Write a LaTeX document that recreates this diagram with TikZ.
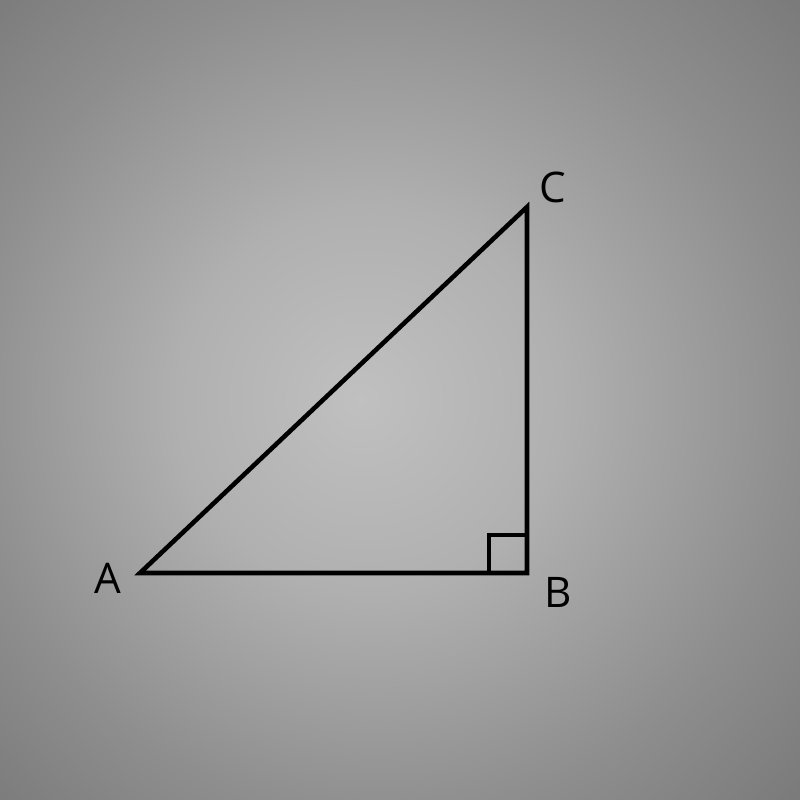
\documentclass[tikz,border=0pt]{standalone}
\usepackage{fontspec}
\setmainfont{Open Sans}
\definecolor{bgcore}{RGB}{192,192,192}
\definecolor{bgmid}{RGB}{176,176,176}
\definecolor{bgedge}{RGB}{142,142,142}
\definecolor{bgcorner}{RGB}{118,118,118}
\pgfdeclareradialshading{bgshade}{\pgfpoint{-2.5bp}{0bp}}{color(0bp)=(bgcore); color(12bp)=(bgmid); color(26bp)=(bgedge); color(38bp)=(bgcorner); color(50bp)=(bgcorner)}
\begin{document}
\begin{tikzpicture}[line width=1.3pt]
\shade[shading=bgshade] (0,0) rectangle (8,8);
\useasboundingbox (0,0) rectangle (8,8);
\coordinate (va) at (1.40,2.27);
\coordinate (vb) at (5.27,2.27);
\coordinate (vc) at (5.27,5.93);
\node[font=\fontsize{12}{14}\selectfont] (la) at (1.08,2.22){A};
\node[font=\fontsize{12}{14}\selectfont] (lb) at (5.58,2.08){B};
\node[font=\fontsize{12}{14}\selectfont] (lc) at (5.53,6.13){C};
\draw[line join=miter] (va) -- (vb) -- (vc) -- cycle;
\draw[] ([xshift=-0.38cm]vb) |- ([yshift=0.38cm]vb);
\end{tikzpicture}
\end{document}
